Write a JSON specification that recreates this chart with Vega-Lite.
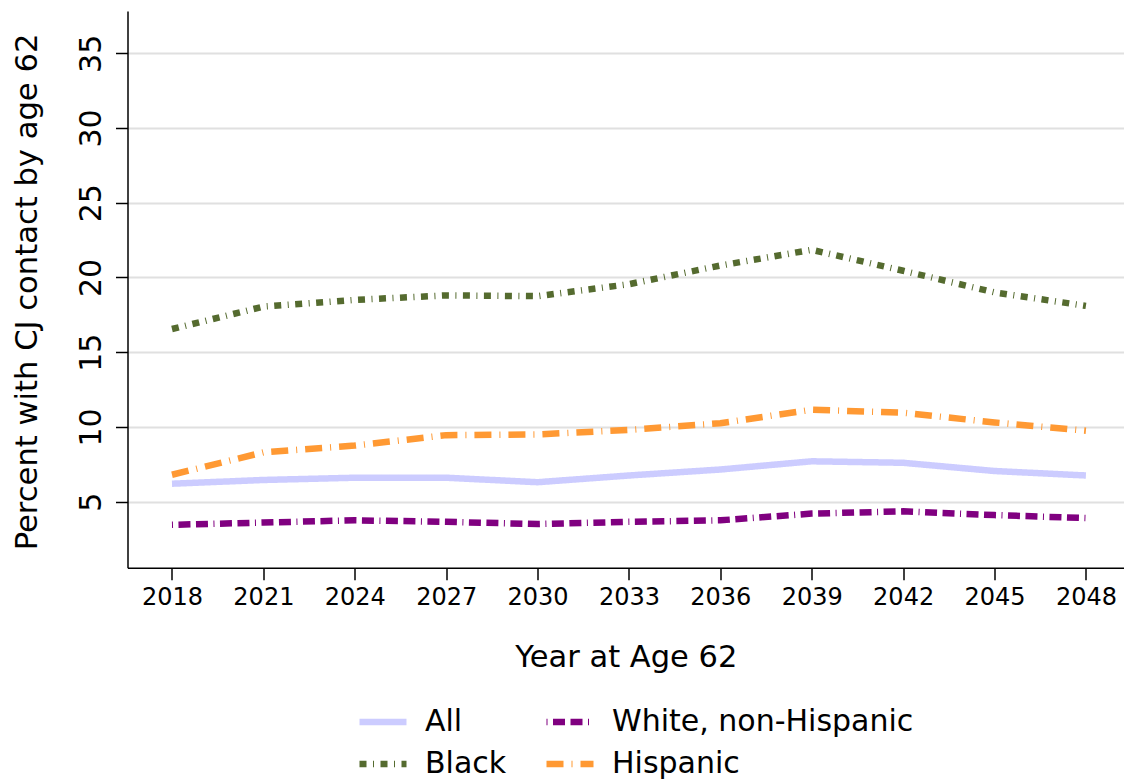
{
  "$schema": "https://vega.github.io/schema/vega-lite/v6.json",
  "width": 996.5,
  "height": 556.7,
  "autosize": {"type": "none"},
  "padding": {"left": 127.5, "top": 11, "right": 0, "bottom": 212.3},
  "background": "white",
  "config": {"view": {"stroke": null}, "font": "DejaVu Sans"},
  "data": {
    "values": [
      {"year": 2018, "group": "All", "pct": 6.2},
      {"year": 2021, "group": "All", "pct": 6.45},
      {"year": 2024, "group": "All", "pct": 6.6},
      {"year": 2027, "group": "All", "pct": 6.6},
      {"year": 2030, "group": "All", "pct": 6.3},
      {"year": 2033, "group": "All", "pct": 6.75},
      {"year": 2036, "group": "All", "pct": 7.15},
      {"year": 2039, "group": "All", "pct": 7.7},
      {"year": 2042, "group": "All", "pct": 7.6},
      {"year": 2045, "group": "All", "pct": 7.05},
      {"year": 2048, "group": "All", "pct": 6.75},
      {"year": 2018, "group": "White, non-Hispanic", "pct": 3.45},
      {"year": 2021, "group": "White, non-Hispanic", "pct": 3.6},
      {"year": 2024, "group": "White, non-Hispanic", "pct": 3.75},
      {"year": 2027, "group": "White, non-Hispanic", "pct": 3.65},
      {"year": 2030, "group": "White, non-Hispanic", "pct": 3.5},
      {"year": 2033, "group": "White, non-Hispanic", "pct": 3.65},
      {"year": 2036, "group": "White, non-Hispanic", "pct": 3.75},
      {"year": 2039, "group": "White, non-Hispanic", "pct": 4.2},
      {"year": 2042, "group": "White, non-Hispanic", "pct": 4.35},
      {"year": 2045, "group": "White, non-Hispanic", "pct": 4.1},
      {"year": 2048, "group": "White, non-Hispanic", "pct": 3.9},
      {"year": 2018, "group": "Black", "pct": 16.55},
      {"year": 2021, "group": "Black", "pct": 18.05},
      {"year": 2024, "group": "Black", "pct": 18.5},
      {"year": 2027, "group": "Black", "pct": 18.8},
      {"year": 2030, "group": "Black", "pct": 18.75},
      {"year": 2033, "group": "Black", "pct": 19.55},
      {"year": 2036, "group": "Black", "pct": 20.8},
      {"year": 2039, "group": "Black", "pct": 21.85},
      {"year": 2042, "group": "Black", "pct": 20.45},
      {"year": 2045, "group": "Black", "pct": 19.0},
      {"year": 2048, "group": "Black", "pct": 18.1},
      {"year": 2018, "group": "Hispanic", "pct": 6.8},
      {"year": 2021, "group": "Hispanic", "pct": 8.3},
      {"year": 2024, "group": "Hispanic", "pct": 8.75},
      {"year": 2027, "group": "Hispanic", "pct": 9.45},
      {"year": 2030, "group": "Hispanic", "pct": 9.5},
      {"year": 2033, "group": "Hispanic", "pct": 9.8},
      {"year": 2036, "group": "Hispanic", "pct": 10.25},
      {"year": 2039, "group": "Hispanic", "pct": 11.15},
      {"year": 2042, "group": "Hispanic", "pct": 10.95},
      {"year": 2045, "group": "Hispanic", "pct": 10.3},
      {"year": 2048, "group": "Hispanic", "pct": 9.75}
    ]
  },
  "mark": {"type": "line", "strokeWidth": 6.5, "strokeCap": "butt"},
  "encoding": {
    "x": {
      "field": "year",
      "type": "quantitative",
      "scale": {"domain": [2016.54, 2049.25], "nice": false, "zero": false},
      "axis": {
        "values": [2018, 2021, 2024, 2027, 2030, 2033, 2036, 2039, 2042, 2045, 2048],
        "format": "d",
        "grid": false,
        "title": "Year at Age 62",
        "labelFontSize": 24,
        "labelColor": "black",
        "labelPadding": 24.3,
        "labelBaseline": "alphabetic",
        "labelFlush": false,
        "tickSize": 12,
        "tickWidth": 1.5,
        "tickColor": "black",
        "domainColor": "black",
        "domainWidth": 1.5,
        "titleFontSize": 30.5,
        "titleFontWeight": "normal",
        "titleColor": "black",
        "titleBaseline": "alphabetic",
        "titleY": 99
      }
    },
    "y": {
      "field": "pct",
      "type": "quantitative",
      "scale": {"domain": [0.58, 37.83], "nice": false, "zero": false},
      "axis": {
        "values": [5, 10, 15, 20, 25, 30, 35],
        "grid": true,
        "gridColor": "#e0e0e0",
        "gridWidth": 1.8,
        "title": "Percent with CJ contact by age 62",
        "labelAngle": -90,
        "labelAlign": "center",
        "labelBaseline": "alphabetic",
        "labelFontSize": 30,
        "labelColor": "black",
        "labelPadding": 15.5,
        "tickSize": 12,
        "tickWidth": 1.5,
        "tickColor": "black",
        "domainColor": "black",
        "domainWidth": 1.5,
        "titleFontSize": 30.6,
        "titleFontWeight": "normal",
        "titleColor": "black",
        "titleAngle": -90,
        "titleAlign": "center",
        "titleBaseline": "alphabetic",
        "titleX": -90.8,
        "titleY": 280.5
      }
    },
    "color": {
      "field": "group",
      "type": "nominal",
      "scale": {
        "domain": ["All", "Black", "White, non-Hispanic", "Hispanic"],
        "range": ["#ccccff", "#556b2f", "#800080", "#ff9933"]
      },
      "legend": {
        "title": null,
        "orient": "none",
        "legendX": 228.5,
        "legendY": 684,
        "columns": 2,
        "symbolType": "stroke",
        "symbolSize": 2209,
        "symbolStrokeWidth": 6.5,
        "labelFontSize": 30,
        "labelColor": "black",
        "labelOffset": 15,
        "columnPadding": 26,
        "rowPadding": 0,
        "padding": 0,
        "labelLimit": 0
      }
    },
    "strokeDash": {
      "field": "group",
      "type": "nominal",
      "scale": {
        "domain": ["All", "Black", "White, non-Hispanic", "Hispanic"],
        "range": [[1, 0], [7, 6.5, 1, 6.5], [1, 5.5, 12, 5.5, 12, 5.5], [17, 8, 1, 8]]
      },
      "legend": {
        "title": null,
        "orient": "none",
        "legendX": 228.5,
        "legendY": 684,
        "columns": 2,
        "symbolType": "stroke",
        "symbolSize": 2209,
        "symbolStrokeWidth": 6.5,
        "labelFontSize": 30,
        "labelColor": "black",
        "labelOffset": 15,
        "columnPadding": 26,
        "rowPadding": 0,
        "padding": 0,
        "labelLimit": 0
      }
    }
  }
}
